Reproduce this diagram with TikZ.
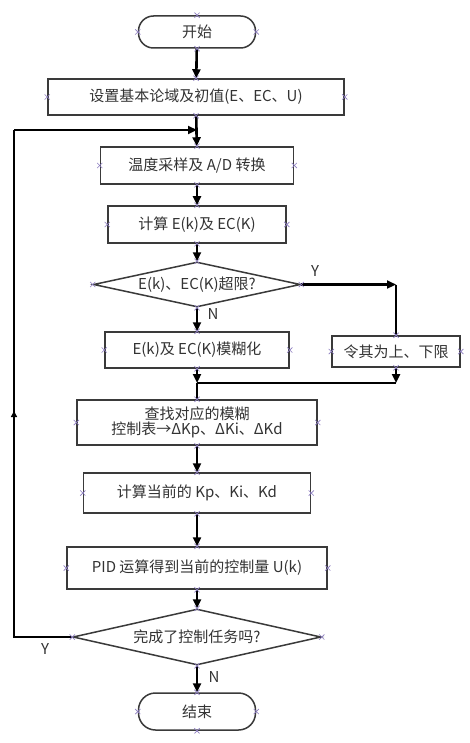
\documentclass[tikz,border=0pt]{standalone}
\usepackage{fontspec}
\setmainfont{Noto Sans CJK SC}
\usepackage{tikz}
\usepackage{xcolor}
\usetikzlibrary{arrows.meta,positioning,calc,shapes.geometric,shapes.misc}
\definecolor{boxgray}{HTML}{3A3A3A}
\definecolor{textgray}{HTML}{333333}
\definecolor{markpurple}{HTML}{8C7DC0}

\tikzset{
  stepbox/.style={draw=boxgray, line width=1.5pt, rectangle, inner sep=0pt,
    text=textgray, align=center},
  term/.style={stepbox, rounded corners=15pt},
  test/.style={draw=boxgray, line width=1.5pt, diamond, inner sep=-3pt,
    text=textgray},
  flow/.style={black, line width=2.6pt, -{Triangle[length=9pt,width=8pt]}},
  link/.style={black, line width=2.6pt},
  xmark/.style={cross out, draw=markpurple, line width=0.7pt,
    minimum size=4.5pt, inner sep=0pt},
  lbl/.style={text=textgray, inner sep=0pt}
}
\newcommand{\xmarks}[1]{%
  \foreach \a in {north,south,east,west} {\node[xmark] at (#1.\a) {};}}

\begin{document}
\begin{tikzpicture}[x=1pt,y=-1pt,font=\fontsize{15}{18}\selectfont]
\useasboundingbox[fill=white] (0,0) rectangle (470,743);
% boxes
\node[term, minimum width=117, minimum height=32] (start) at (197,32) {开始};
\node[stepbox, minimum width=296, minimum height=36] (init) at (196,97)
  {设置基本论域及初值(E、EC、U)};
\node[stepbox, minimum width=193, minimum height=37] (sample) at (197,165.5)
  {温度采样及 A/D 转换};
\node[stepbox, minimum width=178, minimum height=37] (calc) at (197,224.5)
  {计算 E(k)及 EC(K)};
\node[test, minimum width=207, minimum height=45, aspect=4.6] (over) at (197,284.5)
  {E(k)、EC(K)超限?};
\node[stepbox, minimum width=184, minimum height=36] (fuzzy) at (197,350)
  {E(k)及 EC(K)模糊化};
\node[stepbox, minimum width=128, minimum height=31] (limit) at (396,351.5)
  {令其为上、下限};
\node[stepbox, minimum width=240, minimum height=45] (lookup) at (197,422.5)
  {查找对应的模糊\\[-3pt]控制表→ΔKp、ΔKi、ΔKd};
\node[stepbox, minimum width=227, minimum height=40] (kpid) at (197,493)
  {计算当前的 Kp、Ki、Kd};
\node[stepbox, minimum width=260, minimum height=42] (pid) at (197,568)
  {PID 运算得到当前的控制量 U(k)};
\node[test, minimum width=248, minimum height=56, aspect=4.4] (done) at (197,637)
  {完成了控制任务吗?};
\node[term, minimum width=117, minimum height=37, rounded corners=17pt] (stop)
  at (197,711.5) {结束};
% junction points
\coordinate (join) at (197,130);
\coordinate (merge) at (197,383);
\coordinate (loopx) at (14,0);
\coordinate (up) at (14,417);
% main chain
\draw[flow] (start) -- (init);
\draw[flow] (init) -- (sample);
\draw[flow] (sample) -- (calc);
\draw[flow] (calc) -- (over);
\draw[flow] (over) -- (fuzzy);
\draw[flow] (fuzzy) -- (merge);
\draw[link] (merge) -- (lookup);
\draw[flow] (lookup) -- (kpid);
\draw[flow] (kpid) -- (pid);
\draw[flow] (pid) -- (done);
\draw[flow] (done) -- (stop);
% over limit branch
\draw[flow] (over.east) -- (over.east -| limit.north);
\draw[link] (over.east -| limit.north) -- (limit.north);
\draw[flow] (limit.south) -- (limit.south |- merge);
\draw[link] (limit.south |- merge) -- (merge);
% loop back
\draw[link] (done.west) -- (done.west -| loopx) -- (up);
\draw[black, line width=2pt, -{Triangle[length=6pt,width=6pt]}] (up) -- ++(0,-6);
\draw[link] (up) -- (join -| loopx);
\draw[flow] (join -| loopx) -- (join);
% labels
\node[lbl] (y1) at (315,271) {Y};
\node[lbl] (n1) at (213,314) {N};
\node[lbl] (y2) at (45,649) {Y};
\node[lbl] (n2) at (214,677) {N};
% connection marks
\foreach \n in {start,init,sample,calc,over,fuzzy,limit,lookup,kpid,pid,done,stop}
  {\xmarks{\n}}
\end{tikzpicture}
\end{document}
